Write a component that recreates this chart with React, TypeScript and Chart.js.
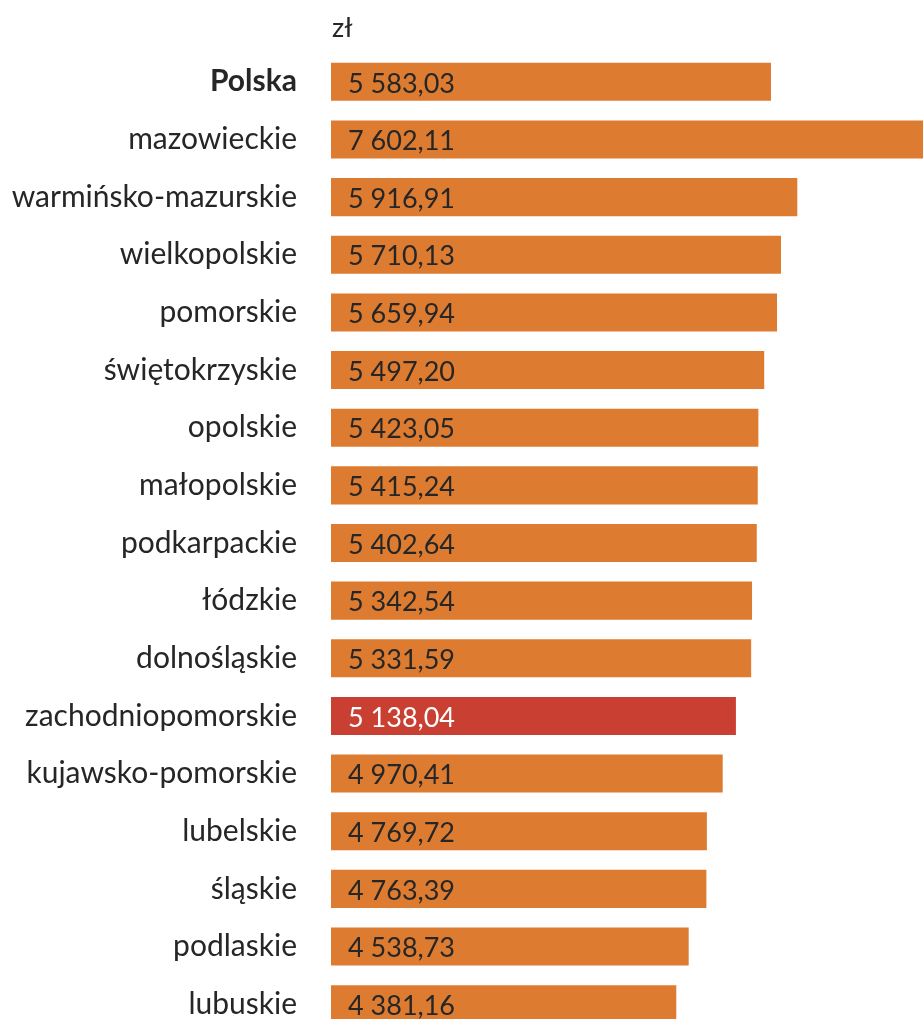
import React, { useEffect, useRef } from "react";
import { Chart, registerables } from "chart.js";

Chart.register(...registerables);

const categories = [
  "Polska",
  "mazowieckie",
  "warmińsko-mazurskie",
  "wielkopolskie",
  "pomorskie",
  "świętokrzyskie",
  "opolskie",
  "małopolskie",
  "podkarpackie",
  "łódzkie",
  "dolnośląskie",
  "zachodniopomorskie",
  "kujawsko-pomorskie",
  "lubelskie",
  "śląskie",
  "podlaskie",
  "lubuskie",
];

const values = [
  5583.03, 7602.11, 5916.91, 5710.13, 5659.94, 5497.2, 5423.05, 5415.24, 5402.64,
  5342.54, 5331.59, 5138.04, 4970.41, 4769.72, 4763.39, 4538.73, 4381.16,
];

const valueLabels = [
  "5 583,03", "7 602,11", "5 916,91", "5 710,13", "5 659,94", "5 497,20", "5 423,05",
  "5 415,24", "5 402,64", "5 342,54", "5 331,59", "5 138,04", "4 970,41", "4 769,72",
  "4 763,39", "4 538,73", "4 381,16",
];

const highlightIndex = 11;
const unitLabel = "zł";

const ORANGE = "#DD7C31";
const RED = "#C94032";
const TEXT = "#262626";
const FONT = "Lato";

export default function App() {
  const ref = useRef<HTMLCanvasElement | null>(null);

  useEffect(() => {
    const canvas = ref.current;
    if (!canvas) return;

    const valuePlugin = {
      id: "valueLabels",
      afterDatasetsDraw(chart: any) {
        const ctx = chart.ctx;
        const meta = chart.getDatasetMeta(0);
        ctx.save();
        ctx.font = `27px ${FONT}`;
        ctx.textAlign = "left";
        ctx.textBaseline = "middle";
        meta.data.forEach((bar: any, i: number) => {
          ctx.fillStyle = i === highlightIndex ? "#FFFFFF" : TEXT;
          ctx.fillText(valueLabels[i], chart.chartArea.left + 17, bar.y + 2);
        });
        ctx.font = `27px ${FONT}`;
        ctx.fillStyle = TEXT;
        ctx.textBaseline = "alphabetic";
        ctx.fillText(unitLabel, chart.chartArea.left + 1, 37);
        ctx.restore();
      },
    };

    const chart = new Chart(canvas, {
      type: "bar",
      data: {
        labels: categories,
        datasets: [
          {
            data: values,
            backgroundColor: values.map((_, i) => (i === highlightIndex ? RED : ORANGE)),
            barPercentage: 0.66,
            categoryPercentage: 1,
            borderWidth: 0,
          },
        ],
      },
      options: {
        indexAxis: "y",
        animation: false,
        responsive: true,
        maintainAspectRatio: false,
        layout: { padding: { top: 53, left: 0, right: 0, bottom: 0 } },
        plugins: {
          legend: { display: false },
          tooltip: { enabled: false },
        },
        scales: {
          x: {
            display: false,
            min: 0,
            max: 7512,
          },
          y: {
            border: { display: false },
            grid: { display: false, drawTicks: false },
            afterFit: (scale: any) => {
              scale.width = 331;
            },
            ticks: {
              padding: 34,
              color: TEXT,
              font: (ctx: any) =>
                ctx.index === 0
                  ? { family: FONT, size: 30, weight: "bold" }
                  : { family: FONT, size: 30 },
            },
          },
        },
      },
      plugins: [valuePlugin],
    });

    return () => chart.destroy();
  }, []);

  return (
    <div
      style={{
        position: "absolute",
        left: 0,
        top: 0,
        width: 923,
        height: 1019,
        overflow: "hidden",
        background: "#fff",
      }}
    >
      <div style={{ position: "relative", width: 923, height: 1085 }}>
        <canvas ref={ref} />
      </div>
    </div>
  );
}
